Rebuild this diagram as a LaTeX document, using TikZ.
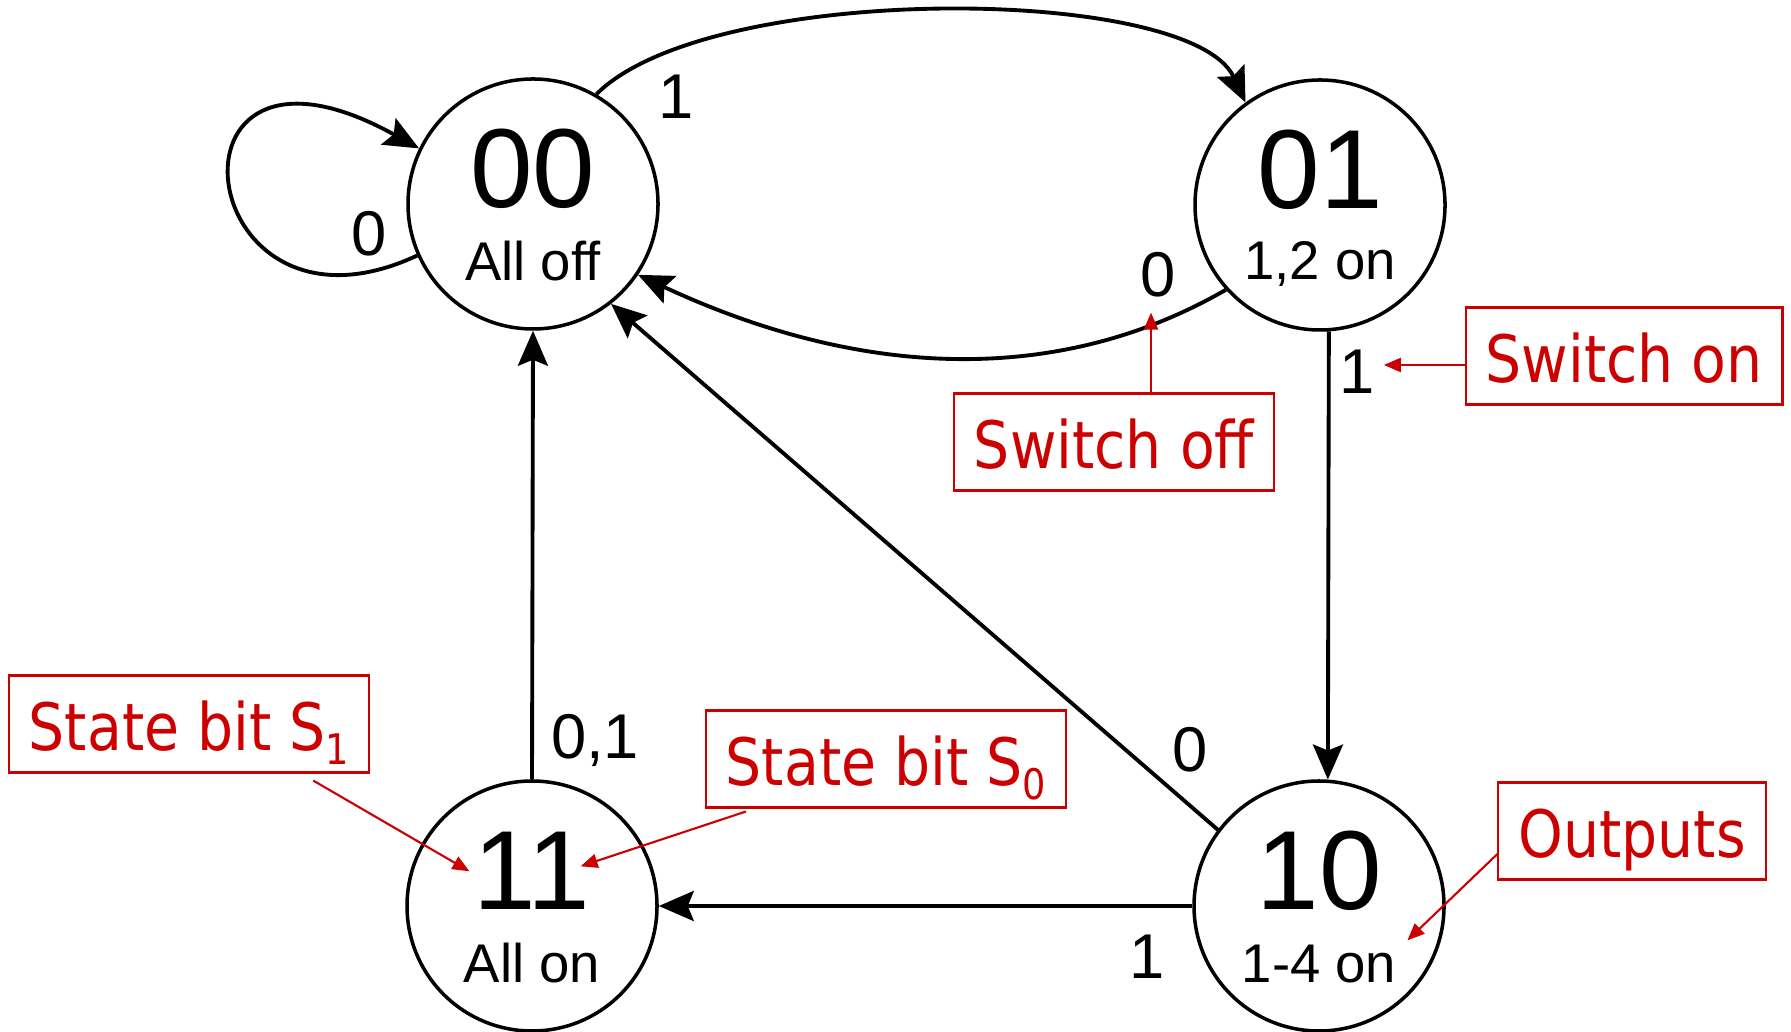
\documentclass[tikz,border=0pt]{standalone}
\usepackage{fontspec}
\setmainfont{Liberation Sans}
\newfontfamily\notefont[FakeStretch=0.87]{DejaVu Sans}
\usepackage{tikz}
\usetikzlibrary{arrows.meta, positioning, calc}
\definecolor{notered}{RGB}{204,0,0}
\newcommand{\subbit}[1]{\raisebox{-0.22em}{\fontsize{12}{12}\selectfont #1}}
\tikzset{
  state/.style={circle, draw, line width=1pt, minimum size=2.5cm, inner sep=0pt},
  statenum/.style={font=\fontsize{32}{32}\selectfont, inner sep=1pt, anchor=base},
  stateout/.style={font=\fontsize{15.5}{15.5}\selectfont, inner sep=1pt, anchor=base},
  edgelbl/.style={font=\fontsize{18}{18}\selectfont, inner sep=1pt},
  note/.style={rectangle, draw=notered, text=notered, line width=0.6pt,
    font=\notefont\fontsize{18.6}{18.6}\selectfont, minimum height=0.97cm,
    inner xsep=0.2cm, text height=15pt, text depth=0pt},
  arrow/.style={-{Stealth[length=3.5mm, width=3mm, inset=0.6mm]}, line width=1.1pt},
  notearrow/.style={-{Triangle[length=1.7mm, width=1.4mm]}, draw=notered, line width=0.6pt}
}

\begin{document}
\begin{tikzpicture}
  \useasboundingbox (0,0) rectangle (17.91,10.31);
  % states
  \node[state] (s00) at (5.33,8.27) {};
  \node[state] (s01) at (13.20,8.26) {};
  \node[state] (s11) at (5.32,1.25) {};
  \node[state] (s10) at (13.19,1.25) {};
  \node[statenum] (n00) at ([yshift=-0.4mm]s00.center) {00};
  \node[statenum] (n01) at ([yshift=-0.4mm]s01.center) {01};
  \node[statenum] (n11) at ([yshift=-0.4mm]s11.center) {11};
  \node[statenum] (n10) at ([yshift=-0.4mm]s10.center) {10};
  \node[stateout] (o00) at ([yshift=-7.7mm]s00.center) {All off};
  \node[stateout] (o01) at ([yshift=-7.5mm]s01.center) {1,2 on};
  \node[stateout] (o11) at ([yshift=-7.6mm]s11.center) {All on};
  \node[stateout] (o10) at ([yshift=-7.6mm]s10.center) {1-4 on};
  % transitions
  \draw[arrow] (s00.204) .. controls +(205:2.5) and +(151:3.1) .. (s00.154);
  \draw[arrow] (s00.60) .. controls +(45:1.6) and +(115:1.3) .. (s01.126);
  \draw[arrow] (s01.222) .. controls +(210:1.86) and +(335:2.55) .. (s00.-34);
  \draw[arrow] (s01.-86) -- (s10.86);
  \draw[arrow] (s10.143) -- (s00.-52);
  \draw[arrow] (s10.west) -- (s11.east);
  \draw[arrow] (s11.north) -- (s00.south);
  \node[edgelbl] (l0loop) at (3.69,7.97) {0};
  \node[edgelbl] (l1top) at (6.76,9.34) {1};
  \node[edgelbl] (l0back) at (11.58,7.56) {0};
  \node[edgelbl] (l1down) at (13.57,6.59) {1};
  \node[edgelbl] (l01up) at (5.95,2.91) {0,1};
  \node[edgelbl] (l0diag) at (11.90,2.81) {0};
  \node[edgelbl] (l1left) at (11.47,0.74) {1};
  % notes
  \node[note] (swon) at (16.24,6.75) {Switch on};
  \node[note] (swoff) at (11.14,5.89) {Switch off};
  \node[note] (sb1) at (1.89,3.07) {State bit S\subbit{1}};
  \node[note] (sb0) at (8.86,2.72) {State bit S\subbit{0}};
  \node[note] (outp) at (16.32,2.00) {Outputs};
  \coordinate (ontip) at ([xshift=0.5mm,yshift=0.7mm]l1down.east);
  \coordinate (offtip) at ([xshift=-0.7mm,yshift=-1.1mm]l0back.south);
  \draw[notearrow] (ontip -| swon.west) -- (ontip);
  \draw[notearrow] (offtip |- swoff.north) -- (offtip);
  \draw[notearrow] ([xshift=-5.7mm,yshift=-0.7mm]sb1.south east) -- (n11.west);
  \draw[notearrow] ([xshift=4.1mm,yshift=-0.3mm]sb0.south west) -- ([xshift=-1.4mm,yshift=0.5mm]n11.east);
  \draw[notearrow] ([yshift=-2.3mm]outp.west) -- ([xshift=0.7mm]o10.north east);
\end{tikzpicture}
\end{document}
